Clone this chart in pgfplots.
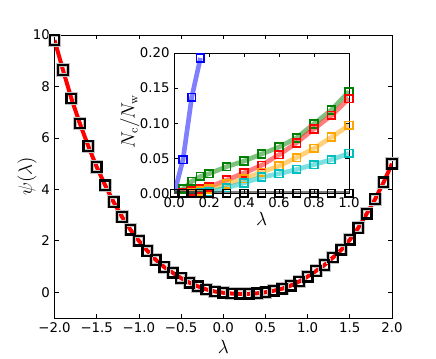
\documentclass[border=0pt]{standalone}
\usepackage[no-math]{fontspec}
\setmainfont{DejaVu Sans}
\usepackage{pgfplots}
\usepackage{pgfplotstable}
\pgfplotsset{compat=1.18}

\definecolor{mplgreen}{rgb}{0,0.5,0}
\definecolor{mplcyan}{rgb}{0,0.75,0.75}
\definecolor{mplorange}{RGB}{255,165,0}

% psi(lambda)
\pgfplotstableread{
lam psi
-2.0 9.80
-1.9 8.64
-1.8 7.53
-1.7 6.56
-1.6 5.68
-1.5 4.87
-1.4 4.16
-1.3 3.51
-1.2 2.93
-1.1 2.43
-1.0 2.00
-0.9 1.61
-0.8 1.26
-0.7 0.98
-0.6 0.76
-0.5 0.55
-0.4 0.37
-0.3 0.23
-0.2 0.11
-0.1 0.03
0.0 -0.02
0.1 -0.05
0.2 -0.06
0.3 -0.06
0.4 -0.04
0.5 0.00
0.6 0.06
0.7 0.14
0.8 0.26
0.9 0.42
1.0 0.61
1.1 0.83
1.2 1.06
1.3 1.35
1.4 1.65
1.5 2.04
1.6 2.50
1.7 3.05
1.8 3.62
1.9 4.27
2.0 5.00
}\psitab

% inset: N_c/N_w
\pgfplotstableread{
lam g r o c k
0.00 0.000 0.000 0.000 0.000 0
0.05 0.006 0.001 0.000 0.000 0
0.10 0.017 0.003 0.001 0.000 0
0.15 0.024 0.006 0.003 0.001 0
0.20 0.028 0.009 0.006 0.002 0
0.30 0.038 0.019 0.013 0.008 0
0.40 0.046 0.029 0.021 0.015 0
0.50 0.056 0.040 0.030 0.023 0
0.60 0.066 0.055 0.039 0.028 0
0.70 0.079 0.072 0.051 0.034 0
0.80 0.099 0.092 0.064 0.041 0
0.90 0.119 0.111 0.080 0.048 0
1.00 0.145 0.135 0.097 0.057 0
}\ncw

\pgfplotstableread{
lam b
0.00 0.000
0.05 0.048
0.10 0.137
0.15 0.193
}\ncwblue

\pgfplotsset{
  mplframe/.style={
    scale only axis, axis line style={line width=0.6pt},
    major tick length=3pt, tick style={black, line width=0.5pt},
    tick label style={font=\fontsize{10}{12}\selectfont},
    label style={font=\fontsize{13.5}{16}\selectfont},
  },
  fatline/.style={line width=3.5pt, opacity=0.5},
  sq/.style={only marks, mark=square, mark size=2.9pt, line width=1.3pt},
}

\begin{document}
\begin{tikzpicture}
\path (0,0) rectangle (327pt,265.5pt);

\begin{axis}[mplframe,
  at={(40.9pt,27pt)}, anchor=south west,
  width=253.1pt, height=212.25pt,
  xmin=-2, xmax=2, ymin=-1, ymax=10,
  xtick={-2,-1.5,...,2},
  xticklabels={−2.0,−1.5,−1.0,−0.5,0.0,0.5,1.0,1.5,2.0},
  ytick={0,2,...,10},
  yticklabels={0,2,4,6,8,10},
  xlabel={$\lambda$}, ylabel={$\psi(\lambda)$},
  xlabel style={at={(axis description cs:0.5,-0.1025)}, anchor=center},
  ylabel style={at={(axis description cs:-0.0815,0.5)}, anchor=center, rotate=0},
]
\addplot[red, line width=3pt] table[x=lam, y=psi] {\psitab};
\addplot[only marks, mark=square, mark size=3.6pt,
  mark options={draw=black!25, line width=2.6pt}] table[x=lam, y=psi] {\psitab};
\addplot[only marks, mark=square, mark size=3.6pt,
  mark options={draw=black, line width=1.7pt}] table[x=lam, y=psi] {\psitab};
\end{axis}

\begin{axis}[mplframe,
  at={(130.7pt,120.5pt)}, anchor=south west,
  width=131pt, height=105.2pt,
  axis background/.style={fill=white},
  xmin=0, xmax=1, ymin=0, ymax=0.2,
  xtick={0,0.2,...,1},
  xticklabels={0.0,0.2,0.4,0.6,0.8,1.0},
  ytick={0,0.05,...,0.2},
  yticklabels={0.00,0.05,0.10,0.15,0.20},
  xlabel={$\lambda$}, ylabel={$N_{\mathrm{c}}/N_{\mathrm{w}}$},
  xlabel style={at={(axis description cs:0.5,-0.183)}, anchor=center},
  ylabel style={at={(axis description cs:-0.254,0.51)}, anchor=center, rotate=0},
]
\addplot[blue, fatline] table[x=lam, y=b] {\ncwblue};
\addplot[blue, sq] table[x=lam, y=b] {\ncwblue};
\addplot[mplgreen, fatline] table[x=lam, y=g] {\ncw};
\addplot[mplgreen, sq] table[x=lam, y=g] {\ncw};
\addplot[red, fatline] table[x=lam, y=r] {\ncw};
\addplot[red, sq] table[x=lam, y=r] {\ncw};
\addplot[mplorange, fatline] table[x=lam, y=o] {\ncw};
\addplot[mplorange, sq] table[x=lam, y=o] {\ncw};
\addplot[mplcyan, fatline] table[x=lam, y=c] {\ncw};
\addplot[mplcyan, sq] table[x=lam, y=c] {\ncw};
\addplot[black, fatline] table[x=lam, y=k] {\ncw};
\addplot[black, sq] table[x=lam, y=k] {\ncw};
\end{axis}
\end{tikzpicture}
\end{document}
